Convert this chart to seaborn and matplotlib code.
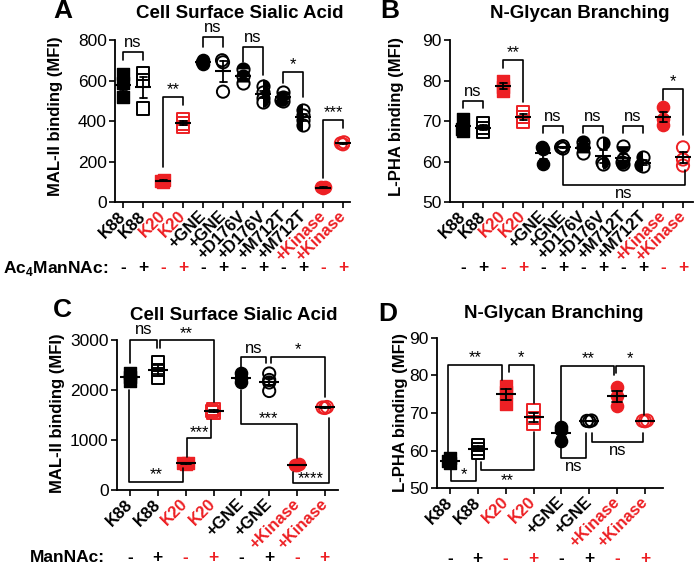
import numpy as np
import pandas as pd
import matplotlib
matplotlib.use('Agg')
import matplotlib.pyplot as plt
import seaborn as sns
from matplotlib.markers import MarkerStyle

sns.set_style('ticks', {'axes.edgecolor': 'black', 'xtick.color': 'black',
                        'ytick.color': 'black', 'axes.labelcolor': 'black',
                        'text.color': 'black'})
plt.rcParams['font.family'] = ['Liberation Sans', 'DejaVu Sans']
plt.rcParams['mathtext.fontset'] = 'custom'
plt.rcParams['mathtext.rm'] = 'Liberation Sans'
plt.rcParams['mathtext.bf'] = 'Liberation Sans:bold'

ROJO = '#ED2024'

# ---- datos ----
nombres_ab = ['K88', 'K88', 'K20', 'K20', '+GNE', '+GNE', '+D176V', '+D176V',
              '+M712T', '+M712T', '+Kinase', '+Kinase']
signos_ab = ['-', '+'] * 6
nombres_cd = ['K88', 'K88', 'K20', 'K20', '+GNE', '+GNE', '+Kinase', '+Kinase']
signos_cd = ['-', '+'] * 4

# A: MAL-II (MFI)
mal_a = [[520, 590, 630], [635, 600, 462], [100, 110, 105], [410, 388, 372],
         [700, 690, 680], [700, 690, 545], [655, 620, 590], [575, 545, 515, 495],
         [545, 520, 505, 500], [455, 430, 405, 380], [68, 75, 72], [285, 290, 295]]
# B: L-PHA (MFI)
lpha_b = [[70.5, 68.0, 67.5], [69.5, 68.3, 67.3], [80.0, 78.5, 77.5], [72.2, 71.0, 69.8],
          [63.5, 63.0, 59.5], [63.8, 63.5, 63.2], [64.8, 63.5, 62.0], [64.5, 60.0, 59.5],
          [63.8, 60.5, 59.5, 60.0], [61.0, 59.2, 59.0], [73.5, 70.5, 69.0], [63.5, 60.5, 59.0]]
# C: MAL-II (MFI)
mal_c = [[2330, 2250, 2170], [2560, 2400, 2250], [540, 520, 530], [1620, 1580, 1550],
         [2330, 2230, 2150], [2330, 2200, 2150, 1980], [490, 500, 510], [1640, 1650, 1660]]
# D: L-PHA (MFI)
lpha_d = [[58.0, 57.2, 56.8], [61.5, 60.5, 59.3], [77.3, 75.5, 72.3], [70.8, 68.7, 67.0],
          [66.3, 65.5, 62.6], [68.0, 67.8, 67.9], [77.0, 74.5, 71.8], [67.9, 67.8, 68.0]]

estilos_ab = [('s', 'full'), ('s', 'none'), ('s', 'full'), ('s', 'none'),
              ('o', 'full'), ('o', 'none'), ('o', 'top'), ('o', 'right'),
              ('o', 'bottom'), ('o', 'left'), ('o', 'full'), ('o', 'none')]
estilos_cd = [('s', 'full'), ('s', 'none'), ('s', 'full'), ('s', 'none'),
              ('o', 'full'), ('o', 'none'), ('o', 'full'), ('o', 'none')]

# corchetes: (x1, x2, y barra, y pata izq, y pata der, texto, y texto)
corchetes_a = [(0, 1, 742, 701, 701, 'ns', 790), (2, 3, 520, 174, 479, '**', 555),
               (4, 5, 816, 767, 767, 'ns', 862), (6, 7, 767, 693, 627, 'ns', 812),
               (8, 9, 644, 586, 520, '*', 680), (10, 11, 405, 117, 364, '***', 440)]
corchetes_b = [(0, 1, 74.9, 73.1, 73.1, 'ns', 77.2), (2, 3, 85.1, 83.0, 74.8, '**', 87.0),
               (4, 5, 68.8, 67.0, 67.0, 'ns', 71.2), (6, 7, 68.8, 67.0, 67.0, 'ns', 71.2),
               (8, 9, 68.8, 67.0, 67.0, 'ns', 71.2), (10, 11, 77.8, 75.2, 66.5, '*', 79.7),
               (5, 11.08, 54.2, 62.0, 57.9, 'ns', 52.0)]
corchetes_c = [(0, 0.98, 3000, 2533, 2833, 'ns', 3200), (1.07, 3, 3000, 2833, 1767, '**', 3133),
               (2.04, 2.92, 1033, 667, 1400, '***', 1153), (-0.04, 1.92, 167, 2000, 433, '**', 300),
               (3.97, 4.9, 2667, 2433, 2533, 'ns', 2833), (5.06, 7, 2667, 2533, 1867, '*', 2800),
               (3.97, 6, 1313, 2000, 633, '***', 1420), (5.86, 7.15, 133, 367, 1433, '****', 233)]
corchetes_d = [(-0.06, 1.88, 82.8, 58.4, 78.8, '**', 84.8), (2.12, 3, 82.8, 81.0, 72.6, '*', 84.8),
               (0.04, 0.95, 51.9, 54.8, 57.5, '*', 53.7), (1.13, 3, 54.8, 57.0, 65.0, '**', 52.1),
               (4, 5.9, 82.4, 67.7, 80.1, '**', 84.6), (5.96, 6.98, 82.4, 80.6, 69.5, '*', 84.6),
               (4, 4.88, 58.1, 61.5, 64.6, 'ns', 55.7), (5.1, 6.94, 62.2, 64.6, 64.6, 'ns', 60.1)]


def panel(ax, nombres, valores, tam_media):
    """Dibuja los puntos (enjambre) y la media +/- SEM de un panel."""
    claves = [str(i) for i in range(len(nombres))]
    filas = [(c, v) for c, vals in zip(claves, valores) for v in vals]
    df = pd.DataFrame(filas, columns=['grupo', 'valor'])
    enjambres = []
    for c in claves:
        n0 = len(ax.collections)
        sns.swarmplot(data=df[df.grupo == c], x='grupo', y='valor', order=claves,
                      size=1.6, color='k', ax=ax)
        nuevas = ax.collections[n0:]
        llenas = [col for col in nuevas if len(col.get_offsets()) > 0]
        for col in nuevas:
            if col not in llenas:
                col.remove()
        enjambres.append(llenas[0])
    n0 = len(ax.lines)
    sns.pointplot(data=df, x='grupo', y='valor', order=claves, errorbar='se', color='k',
                  linestyle='none', marker='_', markersize=tam_media, markeredgewidth=1.5,
                  capsize=0.35, err_kws={'linewidth': 1.3}, ax=ax)
    for l in ax.lines[n0:]:
        l.set_zorder(5)
    return enjambres


def ejes(ax, xlim, ylim, yticks, nombres, signos, y_signos):
    ax.set_xlim(*xlim)
    ax.set_ylim(*ylim)
    ax.set_yticks(yticks)
    ax.set_xticks(range(len(nombres)))
    colores = [ROJO if n in ('K20', '+Kinase') else 'black' for n in nombres]
    ax.set_xticklabels(nombres, rotation=45, ha='right', va='center',
                       rotation_mode='anchor', fontweight='bold', fontsize=12)
    for lbl, c in zip(ax.get_xticklabels(), colores):
        lbl.set_color(c)
    ax.tick_params(axis='y', labelsize=12.5, width=1.2, length=4.5, pad=1.5)
    ax.tick_params(axis='x', width=1.2, length=4.5, pad=4)
    ax.set_xlabel('')
    ax.set_ylabel('')
    sns.despine(ax=ax)
    for s in ['left', 'bottom']:
        ax.spines[s].set_linewidth(1.3)
    for i, (s, c) in enumerate(zip(signos, colores)):
        ax.text(i, y_signos, s, transform=ax.get_xaxis_transform(), ha='center',
                va='center', fontsize=12.5, fontweight='bold', color=c)
    return colores


def marcar(ax, xy, marcador, relleno, color):
    s = 8.8 ** 2
    if relleno == 'full':
        ax.scatter(xy[:, 0], xy[:, 1], s=s, marker=marcador, facecolor=color,
                   edgecolor=color, linewidth=1.0, zorder=3)
    elif relleno == 'none':
        ax.scatter(xy[:, 0], xy[:, 1], s=s, marker=marcador, facecolor='none',
                   edgecolor=color, linewidth=1.4, zorder=3)
    else:
        ax.scatter(xy[:, 0], xy[:, 1], s=s, marker=marcador, facecolor='white',
                   edgecolor=color, linewidth=1.4, zorder=3)
        ax.scatter(xy[:, 0], xy[:, 1], s=s, marker=MarkerStyle(marcador, fillstyle=relleno),
                   facecolor=color, edgecolor='none', zorder=3)


def corchete(ax, x1, x2, yb, y1, y2, texto, yt):
    ax.plot([x1, x1, x2, x2], [y1, yb, yb, y2], color='k', lw=1.2, clip_on=False, zorder=4)
    ax.text((x1 + x2) / 2, yt, texto, ha='center', va='center', fontsize=12, clip_on=False)


fig = plt.figure(figsize=(7, 5.67), dpi=100)
ax_a = fig.add_axes([0.1643, 0.6437, 0.3357, 0.2857])
ax_b = fig.add_axes([0.6429, 0.6437, 0.3471, 0.2857])
ax_c = fig.add_axes([0.1671, 0.1358, 0.3157, 0.2646])
ax_d = fig.add_axes([0.6243, 0.1393, 0.3229, 0.2646])

paneles = [
    (ax_a, nombres_ab, signos_ab, mal_a, estilos_ab, 11, (-0.4, 11.35), (0, 800),
     [0, 200, 400, 600, 800], -0.407, corchetes_a),
    (ax_b, nombres_ab, signos_ab, lpha_b, estilos_ab, 11, (-0.65, 11.5), (50, 90),
     [50, 60, 70, 80, 90], -0.407, corchetes_b),
    (ax_c, nombres_cd, signos_cd, mal_c, estilos_cd, 14, (-0.467, 7.47), (0, 3000),
     [0, 1000, 2000, 3000], -0.453, corchetes_c),
    (ax_d, nombres_cd, signos_cd, lpha_d, estilos_cd, 14, (-0.467, 7.65), (50, 90),
     [50, 60, 70, 80, 90], -0.467, corchetes_d),
]

todos = []
for ax, nombres, signos, valores, estilos, tam, xl, yl, yt, ys, corch in paneles:
    enj = panel(ax, nombres, valores, tam)
    colores = ejes(ax, xl, yl, yt, nombres, signos, ys)
    todos.append((ax, enj, estilos, colores, corch))

# el enjambre se calcula al dibujar: dibujar una vez y copiar posiciones
fig.canvas.draw()
for ax, enj, estilos, colores, corch in todos:
    for coll, (m, r), c in zip(enj, estilos, colores):
        xy = np.asarray(coll.get_offsets())
        coll.remove()
        marcar(ax, xy, m, r, c)
    for b in corch:
        corchete(ax, *b)

# titulos, letras y etiquetas
fig.text(240 / 700, 1 - 13 / 567, 'Cell Surface Sialic Acid', ha='center', va='center',
         fontsize=13.5, fontweight='bold')
fig.text(580 / 700, 1 - 13 / 567, 'N-Glycan Branching', ha='center', va='center',
         fontsize=13.5, fontweight='bold')
fig.text(234 / 700, 1 - 315 / 567, 'Cell Surface Sialic Acid', ha='center', va='center',
         fontsize=13.5, fontweight='bold')
fig.text(554 / 700, 1 - 314 / 567, 'N-Glycan Branching', ha='center', va='center',
         fontsize=13.5, fontweight='bold')
for letra, x, y in [('A', 63, 11), ('B', 390, 11), ('C', 62, 310), ('D', 388, 314)]:
    fig.text(x / 700, 1 - y / 567, letra, ha='center', va='center', fontsize=19,
             fontweight='bold')
for txt, x, y in [('MAL-II binding (MFI)', 56, 116), ('L-PHA binding (MFI)', 397, 116),
                  ('MAL-II binding (MFI)', 58, 413), ('L-PHA binding (MFI)', 400, 413)]:
    fig.text(x / 700, 1 - y / 567, txt, ha='center', va='center', rotation=90,
             fontsize=12, fontweight='bold')
fig.text(108 / 700, 1 - 268 / 567, r'Ac$_{\mathbf{4}}$ManNAc:', ha='right', va='center',
         fontsize=12.5, fontweight='bold')
fig.text(105 / 700, 1 - 558 / 567, 'ManNAc:', ha='right', va='center',
         fontsize=12.5, fontweight='bold')

fig.savefig('out.png', dpi=100)
